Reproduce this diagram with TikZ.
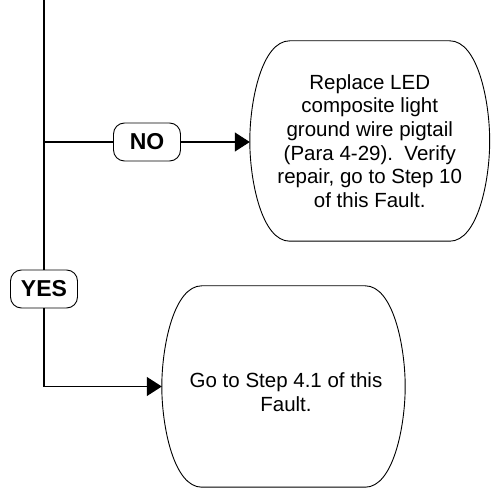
\documentclass[tikz,border=0pt]{standalone}
\usepackage{fontspec}
\setmainfont{Liberation Sans}
\usetikzlibrary{arrows.meta,calc}
\tikzset{
  conn/.style={line width=1.2pt, draw=black},
  arrowconn/.style={conn, -{Triangle[length=15pt,width=19pt]}},
  outline/.style={line width=0.9pt, draw=black},
  lab/.style={draw=black, line width=0.9pt, fill=white, rounded corners=11pt,
    minimum width=67pt, minimum height=38pt, inner sep=0pt,
    font=\fontsize{23}{26}\selectfont\bfseries},
  boxnode/.style={inner sep=0pt, align=center,
    font=\fontsize{20.5}{23.6}\selectfont},
}
\newcommand{\bulgeoutline}[2]{%
 \draw[outline] ($(#1.north west)+(#2,0)$) -- ($(#1.north east)+(-#2,0)$)
   .. controls ($(#1.north east)+(-0.3*#2,0)$) and ($(#1.east)+(0,-40)$) .. (#1.east)
   .. controls ($(#1.east)+(0,40)$) and ($(#1.south east)+(-0.3*#2,0)$) .. ($(#1.south east)+(-#2,0)$)
   -- ($(#1.south west)+(#2,0)$)
   .. controls ($(#1.south west)+(0.3*#2,0)$) and ($(#1.west)+(0,40)$) .. (#1.west)
   .. controls ($(#1.west)+(0,-40)$) and ($(#1.north west)+(0.3*#2,0)$) .. cycle;}
\begin{document}
\begin{tikzpicture}[x=1pt,y=-1pt]
\useasboundingbox (0,0) rectangle (491,489);
% boxes
\node[boxnode, minimum width=239.5pt, minimum height=200pt] (b1) at (369.75,141)
  {Replace LED\\composite light\\ground wire pigtail\\(Para 4-29).\ \ Verify\\repair, go to Step 10\\of this Fault.};
\bulgeoutline{b1}{40}
\node[boxnode, minimum width=243pt, minimum height=201pt] (b2) at (283.5,386.5) {};
\bulgeoutline{b2}{40}
\node[boxnode] (t2) at (286,392) {Go to Step 4.1 of this\\Fault.};
% labels
\node[lab] (no) at (147,142) {NO};
\node[lab] (yes) at (44,289) {YES};
% connectors
\coordinate (top) at (44,0);
\coordinate (j1) at (44,142);
\draw[conn] (top) -- (yes);
\draw[conn] (j1) -- (no);
\draw[arrowconn] (no) -- (no -| b1.west);
\draw[arrowconn] (yes) |- (b2.west);
\end{tikzpicture}
\end{document}
